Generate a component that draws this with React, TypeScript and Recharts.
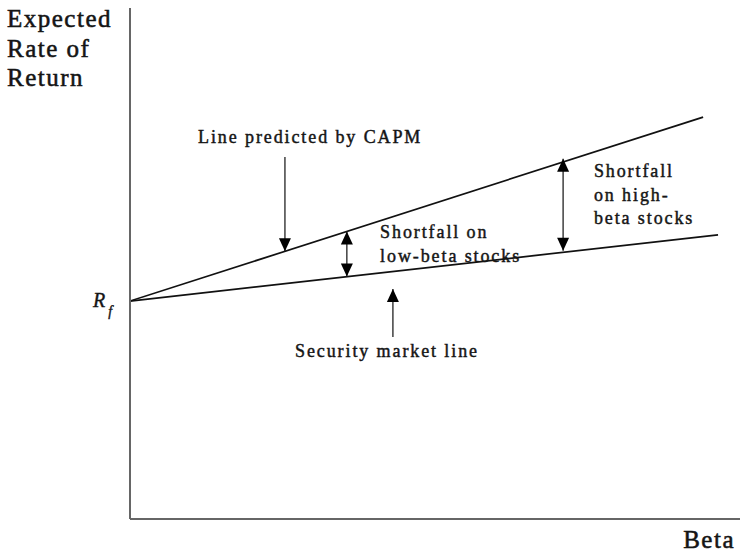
import React from "react";
import { ComposedChart, Line, XAxis, YAxis, ReferenceLine, ReferenceDot } from "recharts";

// Values (beta on x, expected return on y, arbitrary units)
const riskFree = 8.53;
const capmLine = [
  { beta: 0, ret: 8.53 },
  { beta: 1.879, ret: 15.73 },
];
const smlLine = [
  { beta: 0, ret: 8.53 },
  { beta: 1.928, ret: 11.12 },
];

// arrows: [from, to]; tip at "to"; double arrows have heads at both ends
const capmPointer = [{ x: 0.508, y: 14.17 }, { x: 0.508, y: 10.48 }];
const lowBetaGap = [{ x: 0.711, y: 9.49 }, { x: 0.711, y: 11.25 }];
const highBetaGap = [{ x: 1.42, y: 10.5 }, { x: 1.42, y: 14.1 }];
const smlPointer = [{ x: 0.862, y: 7.12 }, { x: 0.862, y: 9.0 }];

const annotations = [
  { beta: 0.223, ret: 14.72, lines: ["Line predicted by CAPM"] },
  { beta: 0.82, ret: 11.0, lines: ["Shortfall on", "low-beta stocks"] },
  { beta: 1.521, ret: 13.39, lines: ["Shortfall", "on high-", "beta stocks"] },
  { beta: 0.541, ret: 6.34, lines: ["Security market line"] },
];
const yTitle = ["Expected", "Rate of", "Return"];
const xTitle = "Beta";

const FONT = "'Liberation Serif', 'Times New Roman', serif";
const INK = "#151515";

const drawHead = (tx: number, ty: number, fx: number, fy: number, key: string) => {
  const dx = tx - fx;
  const dy = ty - fy;
  const len = Math.sqrt(dx * dx + dy * dy) || 1;
  const ux = dx / len;
  const uy = dy / len;
  const L = 13;
  const W = 6;
  const bx = tx - ux * L;
  const by = ty - uy * L;
  const pts = `${tx},${ty} ${bx - uy * W},${by + ux * W} ${bx + uy * W},${by - ux * W}`;
  return <polygon key={key} points={pts} fill="#000" />;
};

const makeArrow = (double: boolean) => (props: any) => {
  const { x1, y1, x2, y2 } = props;
  return (
    <g>
      <line x1={x1} y1={y1} x2={x2} y2={y2} stroke="#222" strokeWidth={1.3} />
      {drawHead(x2, y2, x1, y1, "h2")}
      {double ? drawHead(x1, y1, x2, y2, "h1") : null}
    </g>
  );
};

const textStyle = {
  fontFamily: FONT,
  fontSize: 18,
  letterSpacing: 1.9,
  fill: INK,
  stroke: INK,
  strokeWidth: 0.45,
};

const makeText = (lines: string[]) => (props: any) => {
  const { cx, cy } = props;
  return (
    <text x={cx} y={cy} textAnchor="start" style={textStyle}>
      {lines.map((l, i) => (
        <tspan key={i} x={cx} dy={i === 0 ? 0 : 23.8}>
          {l}
        </tspan>
      ))}
    </text>
  );
};

const RfLabel = (props: any) => {
  const { cx, cy } = props;
  return (
    <text
      x={cx - 37}
      y={cy + 6}
      style={{ fontFamily: FONT, fontSize: 20, fontStyle: "italic", fill: INK, stroke: INK, strokeWidth: 0.4 }}
    >
      R
      <tspan dx={3} dy={9} style={{ fontSize: 14 }}>
        f
      </tspan>
    </text>
  );
};

const titleStyle = {
  fontFamily: FONT,
  fontSize: 25,
  letterSpacing: 1.5,
  fill: INK,
  stroke: INK,
  strokeWidth: 0.55,
};

const YTitle = (props: any) => {
  const { cx, cy } = props;
  return (
    <text x={cx - 123} y={cy + 19} style={titleStyle}>
      {yTitle.map((l, i) => (
        <tspan key={i} x={cx - 123} dy={i === 0 ? 0 : 29.5}>
          {l}
        </tspan>
      ))}
    </text>
  );
};

const XTitle = (props: any) => {
  const { cx, cy } = props;
  return (
    <text x={cx - 5} y={cy + 29} textAnchor="end" style={titleStyle}>
      {xTitle}
    </text>
  );
};

export default function App() {
  return (
    <div style={{ position: "absolute", left: 0, top: 0, background: "#fff" }}>
      <ComposedChart width={740} height={555} margin={{ top: 8, right: 0, left: 129, bottom: 35 }}>
        <XAxis
          type="number"
          dataKey="beta"
          domain={[0, 2]}
          allowDataOverflow
          tick={false}
          tickLine={false}
          height={1}
          axisLine={{ stroke: "#666", strokeWidth: 2 }}
        />
        <YAxis
          type="number"
          dataKey="ret"
          domain={[0, 20]}
          allowDataOverflow
          tick={false}
          tickLine={false}
          width={1}
          axisLine={{ stroke: "#666", strokeWidth: 2 }}
        />
        <Line data={capmLine} dataKey="ret" type="linear" stroke="#111" strokeWidth={1.7} dot={false} isAnimationActive={false} />
        <Line data={smlLine} dataKey="ret" type="linear" stroke="#111" strokeWidth={1.7} dot={false} isAnimationActive={false} />
        <ReferenceLine segment={capmPointer} ifOverflow="visible" shape={makeArrow(false)} />
        <ReferenceLine segment={lowBetaGap} ifOverflow="visible" shape={makeArrow(true)} />
        <ReferenceLine segment={highBetaGap} ifOverflow="visible" shape={makeArrow(true)} />
        <ReferenceLine segment={smlPointer} ifOverflow="visible" shape={makeArrow(false)} />
        {annotations.map((a, i) => (
          <ReferenceDot key={i} x={a.beta} y={a.ret} r={0} ifOverflow="visible" shape={makeText(a.lines)} />
        ))}
        <ReferenceDot x={0} y={riskFree} r={0} ifOverflow="visible" shape={RfLabel} />
        <ReferenceDot x={0} y={20} r={0} ifOverflow="visible" shape={YTitle} />
        <ReferenceDot x={2} y={0} r={0} ifOverflow="visible" shape={XTitle} />
      </ComposedChart>
    </div>
  );
}
